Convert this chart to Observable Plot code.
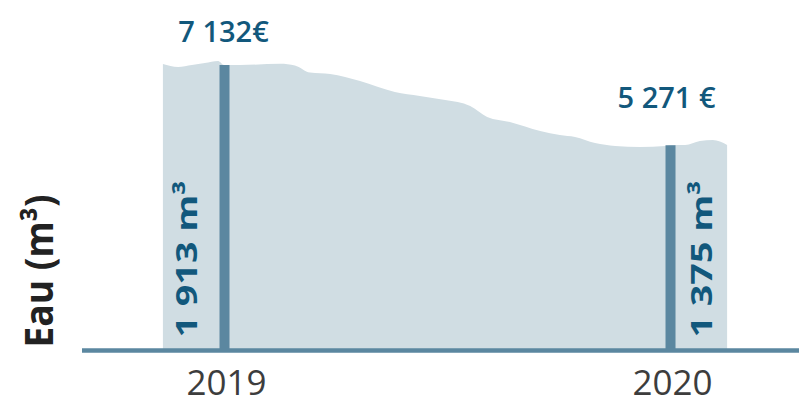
<!DOCTYPE html>
<html><head><meta charset="utf-8">
<script src="https://cdn.jsdelivr.net/npm/d3@7"></script>
<script src="https://cdn.jsdelivr.net/npm/@observablehq/plot@0.6"></script>
<style>
html,body{margin:0;padding:0;background:#fff;}
#chart svg{display:block;}
</style></head><body><div id="chart"></div>
<script>
// Bars (annual consumption)
const years = [2019, 2020];
const volumes = [1913, 1375];
const volumeLabels = ["1 913 m³", "1 375 m³"];
const priceLabels = ["7 132€", "5 271 €"];
const tickYears = [2019, 2020];
const tickLabels = ["2019", "2020"];
const axisTitle = "Eau (m³)";

// Background profile (fractional year, m³)
const profileX = [2018.863, 2018.897, 2018.928, 2018.957, 2018.987, 2019.000, 2019.036, 2019.126, 2019.159, 2019.193,
  2019.238, 2019.305, 2019.383, 2019.439, 2019.496, 2019.552, 2019.590, 2019.641, 2019.709, 2019.753,
  2019.787, 2019.832, 2019.877, 2019.933, 2019.989, 2020.000, 2020.034, 2020.067, 2020.096, 2020.128];
const profileY = [1920, 1900, 1913, 1926, 1940, 1913, 1913, 1922, 1910, 1862,
  1852, 1805, 1732, 1705, 1678, 1638, 1564, 1530, 1470, 1443,
  1430, 1389, 1369, 1362, 1369, 1375, 1376, 1403, 1409, 1376];

const profile = profileX.map((x, i) => ({x, y: profileY[i]}));
const bars = years.map((year, i) => ({year, volume: volumes[i], vol: volumeLabels[i], price: priceLabels[i]}));

const barColor = "#5b87a0";
const valueColor = "#12587c";

const chart = Plot.plot({
  width: 799,
  height: 404,
  marginLeft: 82,
  marginRight: 0,
  marginTop: 0,
  marginBottom: 54,
  style: {fontFamily: "'Open Sans', sans-serif", background: "#fff"},
  x: {domain: [2018.6816, 2020.2892], axis: null},
  y: {domain: [0, 2349.3], axis: null},
  marks: [
    Plot.areaY(profile, {x: "x", y: "y", curve: "monotone-x", fill: "#d0dde3"}),
    Plot.ruleX(bars, {x: "year", y1: 0, y2: "volume", stroke: barColor, strokeWidth: 10}),
    Plot.ruleY([0], {stroke: barColor, strokeWidth: 4.5}),
    Plot.axisX(tickYears, {tickSize: 0, tickPadding: 20, fontSize: 35, fill: "#3d3d3d", dx: 2,
      tickFormat: d => tickLabels[tickYears.indexOf(d)]}),
    Plot.text([bars[0]], {x: "year", y: "volume", text: "price", dy: -33, dx: -1,
      fontSize: 29, fontWeight: 600, fill: valueColor}),
    Plot.text([bars[1]], {x: "year", y: "volume", text: "price", dy: -47, dx: -4,
      fontSize: 29, fontWeight: 600, fill: valueColor}),
    Plot.text([bars[0]], {x: "year", y: 0, text: "vol", rotate: -90, textAnchor: "start",
      dx: -36.5, dy: -13, fontSize: 29, fontWeight: 700, fill: valueColor}),
    Plot.text([bars[1]], {x: "year", y: 0, text: "vol", rotate: -90, textAnchor: "start",
      dx: 32, dy: -13, fontSize: 29, fontWeight: 700, fill: valueColor}),
    Plot.text([axisTitle], {text: d => d, frameAnchor: "bottom-left", rotate: -90, textAnchor: "start",
      dx: -30, dy: -3, fontSize: 39, fontWeight: 700, fill: "#222"})
  ]
});

// stretch vertical labels to their measured lengths
chart.querySelectorAll("text").forEach(t => {
  const s = t.textContent;
  if (volumeLabels.includes(s)) { t.setAttribute("textLength", 157); t.setAttribute("lengthAdjust", "spacingAndGlyphs"); }
  if (s === axisTitle) { t.setAttribute("textLength", 153); t.setAttribute("lengthAdjust", "spacingAndGlyphs"); }
});
document.getElementById("chart").appendChild(chart);
</script></body></html>
